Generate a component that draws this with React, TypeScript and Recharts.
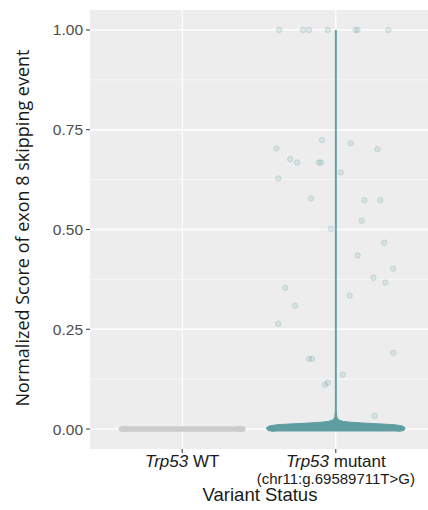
import { ComposedChart, Area, Scatter, XAxis, YAxis, CartesianGrid, Label } from "recharts";

const categoryPos = [1, 2];
const yTicks = [0, 0.25, 0.5, 0.75, 1];
const yMinor = [0.125, 0.375, 0.625, 0.875];

// violin outlines: score level -> half width (in category units)
const wtLevels = [-0.007, -0.005, 0, 0.005, 0.007];
const wtHalfWidth = [0.36, 0.405, 0.41, 0.405, 0.36];

const mutLevels = [-0.006, -0.004, 0, 0.004, 0.008, 0.011, 0.013, 0.015, 0.017, 0.019, 0.022, 0.026, 0.032, 0.045, 1.0];
const mutHalfWidth = [0.4, 0.44, 0.45, 0.45, 0.43, 0.38, 0.28, 0.18, 0.1, 0.05, 0.025, 0.012, 0.006, 0.003, 0.003];

// jittered points of the mutant group
const mutJitterX = [
  1.632, 1.787, 1.826, 1.948, 2.129, 2.142, 2.342,
  1.91, 2.097, 2.271, 1.613, 1.703, 1.748, 1.89, 1.903, 2.032, 1.626,
  1.839, 2.187, 2.29, 2.168, 1.968, 2.316, 2.142, 2.374, 2.245, 2.323,
  1.671, 2.09, 1.735, 1.626, 2.374, 1.826, 1.845, 2.045, 1.929, 1.948, 2.252,
];
const mutScore = [
  1, 1, 1, 1, 1, 1, 1,
  0.724, 0.716, 0.701, 0.703, 0.676, 0.668, 0.668, 0.668, 0.643, 0.628,
  0.578, 0.573, 0.573, 0.522, 0.502, 0.467, 0.435, 0.402, 0.379, 0.367,
  0.354, 0.334, 0.309, 0.264, 0.191, 0.176, 0.176, 0.136, 0.111, 0.116, 0.033,
];

const wtViolin = wtLevels.map((v, i) => ({ v, range: [1 - wtHalfWidth[i], 1 + wtHalfWidth[i]] }));
const mutViolin = mutLevels.map((v, i) => ({ v, range: [2 - mutHalfWidth[i], 2 + mutHalfWidth[i]] }));
const points = mutJitterX.map((x, i) => ({ x, v: mutScore[i] }));

const TEAL = "#5F9EA0";

function XTick({ x, y, payload }: any) {
  if (payload.value === 1) {
    return (
      <text x={x} y={y + 12} textAnchor="middle" fontSize={17} fill="#1a1a1a">
        <tspan fontStyle="italic">Trp53</tspan> WT
      </text>
    );
  }
  return (
    <g>
      <text x={x} y={y + 12} textAnchor="middle" fontSize={17} fill="#1a1a1a">
        <tspan fontStyle="italic">Trp53</tspan> mutant
      </text>
      <text x={x} y={y + 28.5} textAnchor="middle" fontSize={15} fill="#1a1a1a">
        (chr11:g.69589711T&gt;G)
      </text>
    </g>
  );
}

export default function App() {
  return (
    <div style={{ position: "absolute", left: 0, top: 0, background: "#fff" }}>
      <ComposedChart
        layout="vertical"
        width={428}
        height={510}
        margin={{ top: 10, right: 0, bottom: 0, left: 0 }}
        style={{ fontFamily: "Liberation Sans, Arial, sans-serif" }}
      >
        <CartesianGrid fill="#EDEDED" stroke="#fff" strokeWidth={0.6} horizontalValues={yMinor} vertical={false} />
        <CartesianGrid stroke="#fff" strokeWidth={1.3} horizontalValues={yTicks} verticalValues={categoryPos} />
        <XAxis
          type="number"
          dataKey="x"
          domain={[0.4, 2.6]}
          ticks={categoryPos}
          allowDataOverflow
          height={61}
          interval={0}
          tick={<XTick />}
          tickSize={4}
          tickLine={{ stroke: "#333" }}
          axisLine={false}
        >
          <Label
            content={() => (
              <text x={260} y={501} textAnchor="middle" fontSize={18.5} fill="#1a1a1a">
                Variant Status
              </text>
            )}
          />
        </XAxis>
        <YAxis
          type="number"
          dataKey="v"
          domain={[-0.05, 1.05]}
          ticks={yTicks}
          reversed
          allowDataOverflow
          width={90}
          interval={0}
          tickFormatter={(v: number) => v.toFixed(2)}
          tick={{ fontSize: 15.5, fill: "#4d4d4d" }}
          tickSize={4}
          tickMargin={3}
          tickLine={{ stroke: "#333" }}
          axisLine={false}
        >
          <Label
            content={() => (
              <text
                x={29}
                y={228}
                transform="rotate(-90, 29, 228)"
                textAnchor="middle"
                fontSize={18}
                fill="#1a1a1a"
                style={{ fontFamily: "Open Sans, sans-serif" }}
              >
                Normalized Score of exon 8 skipping event
              </text>
            )}
          />
        </YAxis>
        <Area
          data={wtViolin}
          dataKey="range"
          type="linear"
          fill="#CCCCCC"
          fillOpacity={1}
          stroke="#CCCCCC"
          strokeWidth={1}
          dot={false}
          activeDot={false}
          isAnimationActive={false}
        />
        <Area
          data={mutViolin}
          dataKey="range"
          type="linear"
          fill={TEAL}
          fillOpacity={1}
          stroke={TEAL}
          strokeWidth={1}
          dot={false}
          activeDot={false}
          isAnimationActive={false}
        />
        <Scatter
          data={points}
          isAnimationActive={false}
          shape={(p: any) => (
            <circle
              cx={p.cx}
              cy={p.cy}
              r={2.7}
              fill={TEAL}
              fillOpacity={0.14}
              stroke={TEAL}
              strokeOpacity={0.25}
              strokeWidth={1}
            />
          )}
        />
      </ComposedChart>
    </div>
  );
}
